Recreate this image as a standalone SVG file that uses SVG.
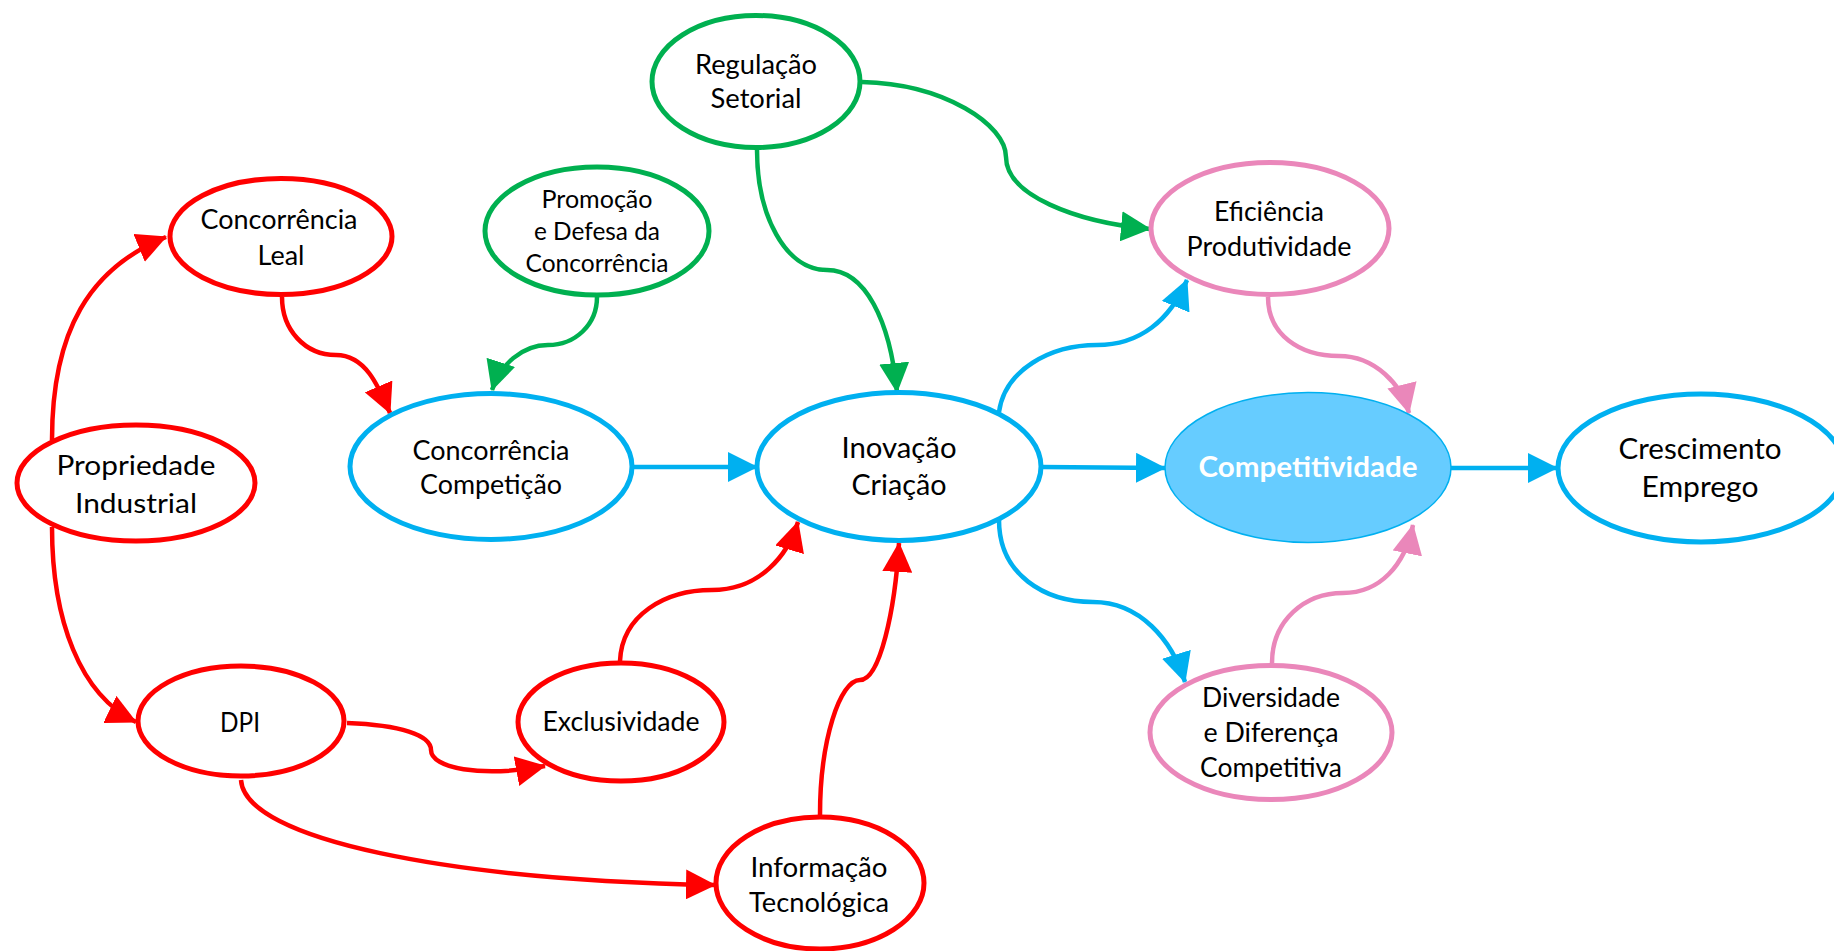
<svg xmlns="http://www.w3.org/2000/svg" width="1834" height="951" viewBox="0 0 1834 951">
<style>
.n{fill:#fff;stroke-width:5}
.r{stroke:#FF0000}.g{stroke:#00B050}.b{stroke:#00B0F0}.p{stroke:#EA87BA}
.t{font-family:Lato,"Open Sans","Liberation Sans",sans-serif;font-size:27px;fill:#000;text-anchor:middle}
.c{fill:none;stroke-width:4.5}
</style>
<defs>
<marker id="ar" viewBox="0 0 30 30" refX="29" refY="15" markerWidth="30" markerHeight="30" markerUnits="userSpaceOnUse" orient="auto"><path d="M0,0 L30,15 L0,30 z" fill="#FF0000"/></marker>
<marker id="ag" viewBox="0 0 30 30" refX="29" refY="15" markerWidth="30" markerHeight="30" markerUnits="userSpaceOnUse" orient="auto"><path d="M0,0 L30,15 L0,30 z" fill="#00B050"/></marker>
<marker id="ab" viewBox="0 0 30 30" refX="29" refY="15" markerWidth="30" markerHeight="30" markerUnits="userSpaceOnUse" orient="auto"><path d="M0,0 L30,15 L0,30 z" fill="#00B0F0"/></marker>
<marker id="ap" viewBox="0 0 30 30" refX="29" refY="15" markerWidth="30" markerHeight="30" markerUnits="userSpaceOnUse" orient="auto"><path d="M0,0 L30,15 L0,30 z" fill="#EA87BA"/></marker>
</defs>
<g id="connectors">
<path class="c r" marker-end="url(#ar)" d="M52,440 C52,330 90,268 166,237"/>
<path class="c r" marker-end="url(#ar)" d="M52,527 C52,620 80,695 136,722"/>
<path class="c r" marker-end="url(#ar)" d="M282,297 C282,330 305,355 336,355 C365,355 378,385 390,413"/>
<path class="c g" marker-end="url(#ag)" d="M597,297 C597,325 575,345 548,345 C522,345 500,365 492,390"/>
<path class="c g" marker-end="url(#ag)" d="M757,150 C757,215 785,270 827,270 C865,270 890,320 897,392"/>
<path class="c g" marker-end="url(#ag)" d="M862,82 C945,84 1006,125 1006,157 C1006,195 1075,222 1150,229"/>
<path class="c b" marker-end="url(#ab)" d="M634,467 L757,467"/>
<path class="c b" marker-end="url(#ab)" d="M1041,467 L1165,468"/>
<path class="c b" marker-end="url(#ab)" d="M1451,468 L1557,468"/>
<path class="c b" marker-end="url(#ab)" d="M999,412 C1005,370 1050,345 1097,345 C1140,345 1170,320 1187,280"/>
<path class="c b" marker-end="url(#ab)" d="M999,520 C999,575 1045,602 1093,602 C1140,602 1172,640 1185,682"/>
<path class="c p" marker-end="url(#ap)" d="M1268,297 C1268,335 1300,356 1339,356 C1375,356 1402,385 1409,413"/>
<path class="c p" marker-end="url(#ap)" d="M1272,663 C1272,620 1305,593 1343,593 C1380,593 1405,565 1413,525"/>
<path class="c r" marker-end="url(#ar)" d="M620,661 C622,615 665,590 712,590 C760,590 788,555 798,522"/>
<path class="c r" marker-end="url(#ar)" d="M820,815 C820,740 840,680 860,680 C880,680 895,610 899,543"/>
<path class="c r" marker-end="url(#ar)" d="M347,723 C400,725 431,735 431,750 C431,768 480,778 545,766"/>
<path class="c r" marker-end="url(#ar)" d="M241,780 C245,840 450,880 715,885"/>
</g>
<g id="regulacao"><ellipse class="n g" cx="756" cy="81.5" rx="104" ry="66"/>
<text class="t" x="756" y="74" textLength="122" lengthAdjust="spacingAndGlyphs">Regulação</text>
<text class="t" x="756" y="108" textLength="91" lengthAdjust="spacingAndGlyphs">Setorial</text></g>
<g id="promocao"><ellipse class="n g" cx="597" cy="231" rx="112" ry="64"/>
<text class="t" x="597" y="208" style="font-size:25px" textLength="111" lengthAdjust="spacingAndGlyphs">Promoção</text>
<text class="t" x="597" y="240" style="font-size:25px" textLength="126" lengthAdjust="spacingAndGlyphs">e Defesa da</text>
<text class="t" x="597" y="272" style="font-size:25px" textLength="143" lengthAdjust="spacingAndGlyphs">Concorrência</text></g>
<g id="concorrencia-leal"><ellipse class="n r" cx="281" cy="236.5" rx="111" ry="58"/>
<text class="t" x="279" y="229" textLength="157" lengthAdjust="spacingAndGlyphs">Concorrência</text>
<text class="t" x="281" y="265" textLength="47" lengthAdjust="spacingAndGlyphs">Leal</text></g>
<g id="propriedade"><ellipse class="n r" cx="136" cy="483" rx="119" ry="58"/>
<text class="t" x="136" y="475" textLength="159" lengthAdjust="spacingAndGlyphs">Propriedade</text>
<text class="t" x="136" y="513" textLength="122" lengthAdjust="spacingAndGlyphs">Industrial</text></g>
<g id="concorrencia-competicao"><ellipse class="n b" cx="491" cy="466.5" rx="141" ry="73"/>
<text class="t" x="491" y="460" textLength="157" lengthAdjust="spacingAndGlyphs">Concorrência</text>
<text class="t" x="491" y="494" textLength="142" lengthAdjust="spacingAndGlyphs">Competição</text></g>
<g id="inovacao"><ellipse class="n b" cx="899" cy="466.5" rx="142" ry="74"/>
<text class="t" x="899" y="458" style="font-size:28px" textLength="115" lengthAdjust="spacingAndGlyphs">Inovação</text>
<text class="t" x="899" y="495" style="font-size:28px" textLength="95" lengthAdjust="spacingAndGlyphs">Criação</text></g>
<g id="competitividade"><ellipse cx="1308" cy="467.5" rx="143" ry="75" fill="#66CCFF" stroke="#00B0F0" stroke-width="1.5"/>
<text class="t" x="1308" y="477" style="font-size:28px;font-weight:bold;fill:#fff" textLength="219" lengthAdjust="spacingAndGlyphs">Competitividade</text></g>
<g id="crescimento"><ellipse class="n b" cx="1701" cy="468" rx="143" ry="74"/>
<text class="t" x="1700" y="459" style="font-size:28px" textLength="163" lengthAdjust="spacingAndGlyphs">Crescimento</text>
<text class="t" x="1700" y="497" style="font-size:28px" textLength="117" lengthAdjust="spacingAndGlyphs">Emprego</text></g>
<g id="eficiencia"><ellipse class="n p" cx="1270" cy="228.5" rx="119" ry="66"/>
<text class="t" x="1269" y="221" textLength="110" lengthAdjust="spacingAndGlyphs">Eficiência</text>
<text class="t" x="1269" y="256" textLength="165" lengthAdjust="spacingAndGlyphs">Produtividade</text></g>
<g id="diversidade"><ellipse class="n p" cx="1271" cy="732.5" rx="121" ry="67"/>
<text class="t" x="1271" y="707" textLength="138" lengthAdjust="spacingAndGlyphs">Diversidade</text>
<text class="t" x="1271" y="742" textLength="135" lengthAdjust="spacingAndGlyphs">e Diferença</text>
<text class="t" x="1271" y="777" textLength="142" lengthAdjust="spacingAndGlyphs">Competitiva</text></g>
<g id="dpi"><ellipse class="n r" cx="241" cy="721" rx="103" ry="55"/>
<text class="t" x="240" y="732" textLength="40" lengthAdjust="spacingAndGlyphs">DPI</text></g>
<g id="exclusividade"><ellipse class="n r" cx="621" cy="722" rx="103" ry="59"/>
<text class="t" x="621" y="731" textLength="157" lengthAdjust="spacingAndGlyphs">Exclusividade</text></g>
<g id="informacao"><ellipse class="n r" cx="820" cy="883" rx="104" ry="66"/>
<text class="t" x="819" y="877" textLength="137" lengthAdjust="spacingAndGlyphs">Informação</text>
<text class="t" x="819" y="912" textLength="140" lengthAdjust="spacingAndGlyphs">Tecnológica</text></g>
</svg>
